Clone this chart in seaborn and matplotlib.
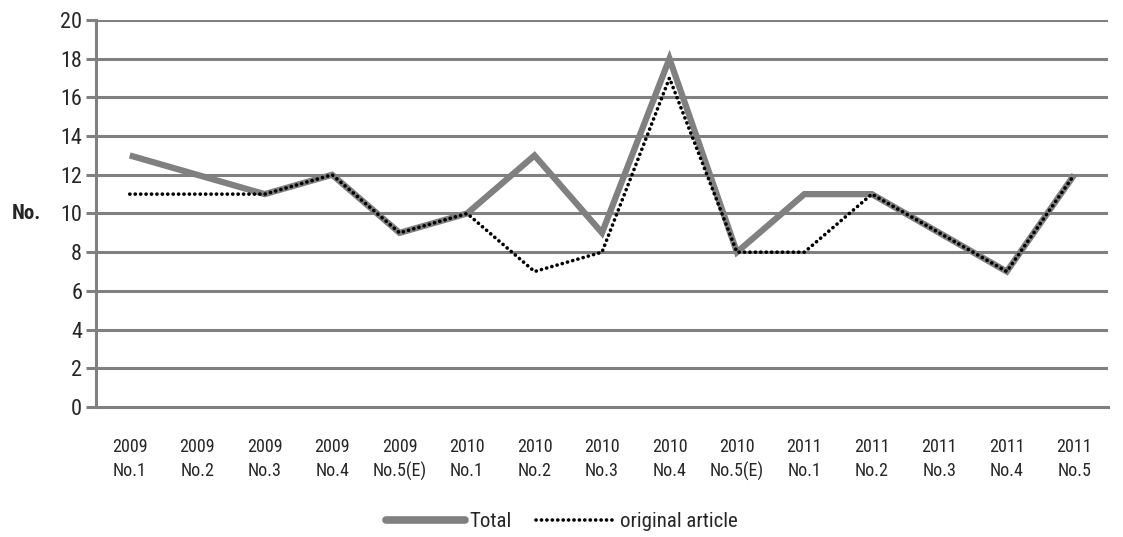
import matplotlib
matplotlib.use("Agg")
import matplotlib.pyplot as plt
import seaborn as sns
import pandas as pd
import numpy as np
from matplotlib import font_manager
from matplotlib.lines import Line2D

categories = ["2009\nNo.1", "2009\nNo.2", "2009\nNo.3", "2009\nNo.4", "2009\nNo.5(E)",
              "2010\nNo.1", "2010\nNo.2", "2010\nNo.3", "2010\nNo.4", "2010\nNo.5(E)",
              "2011\nNo.1", "2011\nNo.2", "2011\nNo.3", "2011\nNo.4", "2011\nNo.5"]
total = [13, 12, 11, 12, 9, 10, 13, 9, 18, 8, 11, 11, 9, 7, 12]
original = [11, 11, 11, 12, 9, 10, 7, 8, 17, 8, 8, 11, 9, 7, 12]
yticks = [0, 2, 4, 6, 8, 10, 12, 14, 16, 18, 20]

sns.set_theme(style="white")
fl = font_manager.fontManager.ttflist
names = {f.name for f in fl}
stretch = "normal"
if "Liberation Sans Narrow" in names:
    fam = "Liberation Sans Narrow"
elif "Roboto Condensed" in names:
    fam = "Roboto Condensed"
elif any(f.name == "DejaVu Sans" and "Condensed" in f.fname for f in fl):
    fam = "DejaVu Sans"
    stretch = "condensed"
else:
    fam = "Liberation Sans"
plt.rcParams['font.family'] = [fam, 'DejaVu Sans']
plt.rcParams['font.stretch'] = stretch

df = pd.DataFrame({
    "x": list(range(len(categories))) * 2,
    "value": total + original,
    "series": ["Total"] * len(total) + ["original article"] * len(original),
})

fig = plt.figure(figsize=(11.23, 5.37), dpi=100)
ax = fig.add_axes([0.0855, 0.2421, 0.9011, 0.7207])

grey = "#808080"
for y in yticks[1:]:
    ax.axhline(y, color=grey, lw=2.2, zorder=0)

sns.lineplot(data=df, x="x", y="value", hue="series", style="series",
             palette={"Total": grey, "original article": "black"},
             dashes={"Total": "", "original article": (1, 1)},
             ax=ax, legend=False, sort=False, estimator=None)
data_lines = [l for l in ax.get_lines() if len(l.get_xdata()) == len(categories)]
data_lines[0].set_linewidth(4.5)
data_lines[0].set_solid_capstyle("butt")
data_lines[0].set_solid_joinstyle("miter")
data_lines[1].set_linewidth(2.6)
data_lines[1].set_linestyle((0, (0.05, 1.45)))
data_lines[1].set_dash_capstyle("round")

ax.set_xlim(-0.5, len(categories) - 0.5)
ax.set_ylim(0, 20)
ax.set_yticks(yticks)
ax.set_yticklabels([str(v) for v in yticks], fontsize=16)
ax.set_xticks(range(len(categories)))
ax.set_xticklabels(categories, fontsize=13, linespacing=1.45)
ax.set_xticks(np.arange(-0.5, len(categories), 1.0), minor=True)
ax.tick_params(axis="x", which="major", length=0, pad=22)
ax.tick_params(axis="x", which="minor", length=7, width=2.2, color=grey, direction="out")
ax.tick_params(axis="y", length=7, width=2.2, color=grey, direction="out", pad=3, left=True)

for s in ["top", "right"]:
    ax.spines[s].set_visible(False)
for s in ["left", "bottom"]:
    ax.spines[s].set_color(grey)
    ax.spines[s].set_linewidth(2.2)

ax.set_xlabel("")
ax.set_ylabel("No.", fontsize=15, fontweight="bold", rotation=0, labelpad=24, va="center")

handles = [Line2D([], [], color=grey, lw=5.5, solid_capstyle="round"),
           Line2D([], [], color="black", lw=2.6, linestyle=(0, (0.05, 1.45)), dash_capstyle="round")]
fig.legend(handles, ["Total", "original article"], loc="center", bbox_to_anchor=(0.5, 0.028),
           ncol=2, frameon=False, fontsize=15, handlelength=3.8, handletextpad=0.2,
           columnspacing=1.2)

fig.savefig("out.png", dpi=100)
